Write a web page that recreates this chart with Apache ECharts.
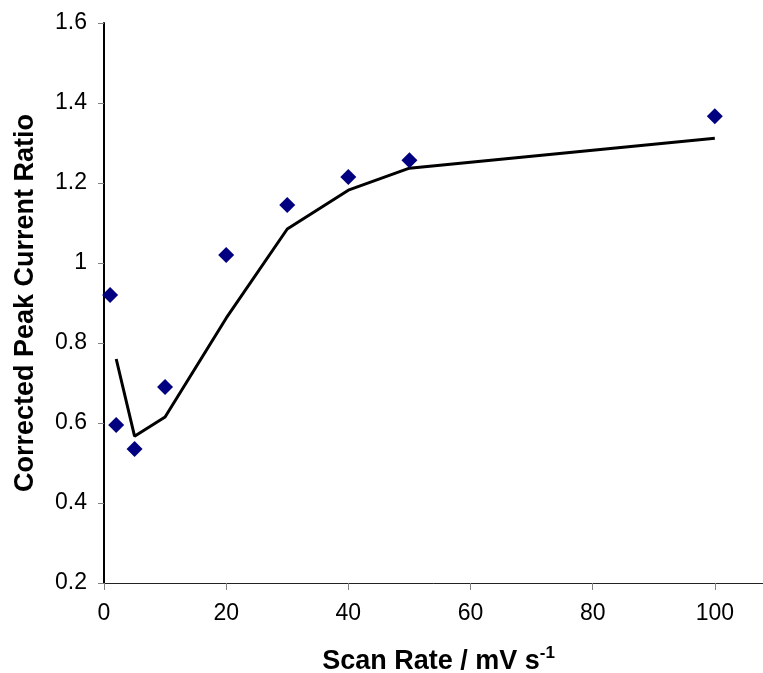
<!DOCTYPE html>
<html>
<head>
<meta charset="utf-8">
<script src="https://cdn.jsdelivr.net/npm/echarts@6/dist/echarts.min.js"></script>
<style>html,body{margin:0;padding:0;background:#fff}#c{width:763px;height:673px}</style>
</head>
<body>
<div id="c"></div>
<script>
const scanRates = [1, 2, 5, 10, 20, 30, 40, 50, 100];
const measuredRatio = [0.92, 0.595, 0.535, 0.69, 1.02, 1.145, 1.215, 1.257, 1.367];
const fitRates = [2, 5, 10, 20, 30, 40, 50, 100];
const fitRatio = [0.76, 0.567, 0.615, 0.862, 1.085, 1.182, 1.237, 1.312];

const chart = echarts.init(document.getElementById('c'), null, {renderer: 'canvas'});
const font = '"Liberation Sans", Arial, sans-serif';
chart.setOption({
  backgroundColor: '#fff',
  animation: false,
  grid: {left: 104, top: 23, height: 560, width: 733, containLabel: false, outerBoundsMode: 'none'},
  xAxis: {
    type: 'value', min: 0, max: 120, interval: 20,
    name: '{a|Scan Rate / mV s}{s|-1}',
    nameLocation: 'middle', nameGap: 62,
    nameTextStyle: {
      padding: [0, 64, 0, 0],
      rich: {
        a: {fontFamily: font, fontWeight: 'bold', fontSize: 27, color: '#000'},
        s: {fontFamily: font, fontWeight: 'bold', fontSize: 17, color: '#000', verticalAlign: 'top', padding: [0, 0, 16, 0]}
      }
    },
    axisLine: {lineStyle: {color: '#222', width: 1}},
    axisTick: {inside: false, length: 7, lineStyle: {color: '#808080'}},
    axisLabel: {fontFamily: font, fontSize: 23, color: '#000', margin: 19},
    splitLine: {show: false}
  },
  yAxis: {
    type: 'value', min: 0.2, max: 1.6, interval: 0.2,
    name: 'Corrected Peak Current Ratio',
    nameLocation: 'middle', nameGap: 65,
    nameTextStyle: {fontFamily: font, fontWeight: 'bold', fontSize: 27, color: '#000'},
    axisLine: {show: true, lineStyle: {color: '#000', width: 2}},
    axisTick: {show: true, length: 6, lineStyle: {color: '#808080'}},
    axisLabel: {fontFamily: font, fontSize: 23, color: '#000', margin: 17,
      formatter: v => String(Math.round(v * 10) / 10)},
    splitLine: {show: false}
  },
  series: [
    {
      type: 'line',
      data: fitRates.map((x, i) => [x, fitRatio[i]]),
      symbol: 'none',
      lineStyle: {color: '#000', width: 3},
      z: 2
    },
    {
      type: 'scatter',
      data: scanRates.map((x, i) => [x, measuredRatio[i]]),
      symbol: 'diamond',
      symbolSize: [16, 16],
      itemStyle: {color: '#000080', opacity: 1},
      z: 3
    }
  ]
});
</script>
</body>
</html>
